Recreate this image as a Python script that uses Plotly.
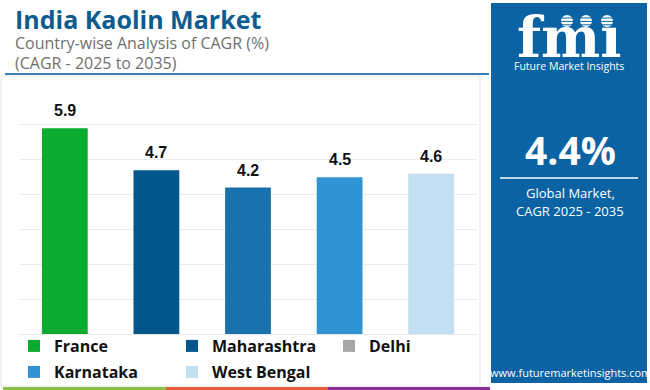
import plotly.graph_objects as go

# ---------------- data ----------------
categories = ["France", "Maharashtra", "Delhi", "Karnataka", "West Bengal"]
cagr_values = [5.9, 4.7, 4.2, 4.5, 4.6]
bar_colors = ["#0aab2e", "#03568c", "#1a72ad", "#3094d4", "#c2e0f2"]
legend_colors = ["#0aab2e", "#03568c", "#a6a6a6", "#3094d4", "#c2e0f2"]
title_text = "India Kaolin Market"
subtitle_1 = "Country-wise Analysis of CAGR (%)"
subtitle_2 = "(CAGR - 2025 to 2035)"
global_cagr = "4.4%"

W, H = 650, 390
L, R, T, B = 19, 477, 90, 334  # plot area in px

# legend item placement (left px of item, centre y px)
legend_pos = [(14, 346), (172, 346), (329, 346), (14, 372), (172, 372)]


def px(x):
    return (x - L) / (R - L)


def py(y):
    return (B - y) / (B - T)


fig = go.Figure()

fig.add_trace(go.Bar(
    x=categories, y=cagr_values,
    marker=dict(color=bar_colors, line=dict(width=0)),
    showlegend=False, hoverinfo="x+y",
))

legend_font = dict(family="Open Sans", size=16, color="#111111", weight="bold")
legend_layouts = {}
for i, (cat, col) in enumerate(zip(categories, legend_colors)):
    key = "legend" if i == 0 else f"legend{i + 1}"
    fig.add_trace(go.Scatter(
        x=[None], y=[None], mode="markers", name=cat,
        marker=dict(symbol="square", size=12, color=col),
        legend=key,
    ))
    lx, ly = legend_pos[i]
    legend_layouts[key] = dict(
        orientation="h", xref="container", yref="container",
        x=lx / W, y=1 - ly / H, xanchor="left", yanchor="middle",
        font=legend_font, bgcolor="rgba(0,0,0,0)", itemclick=False,
        itemdoubleclick=False,
    )

annotations = []
for cat, v in zip(categories, cagr_values):
    annotations.append(dict(
        x=cat, y=v, xref="x", yref="y", text=f"{v:.1f}", showarrow=False,
        yanchor="bottom", yshift=7,
        font=dict(family="Liberation Sans", size=16, color="#111111", weight="bold"),
    ))

annotations += [
    dict(x=px(13), y=py(19), xref="paper", yref="paper", text=title_text,
         showarrow=False, xanchor="left", yanchor="middle",
         font=dict(family="Open Sans", size=25, color="#0d5b8f", weight="bold")),
    dict(x=px(13), y=py(43), xref="paper", yref="paper", text=subtitle_1,
         showarrow=False, xanchor="left", yanchor="middle",
         font=dict(family="Open Sans", size=16, color="#707070")),
    dict(x=px(13), y=py(63), xref="paper", yref="paper", text=subtitle_2,
         showarrow=False, xanchor="left", yanchor="middle",
         font=dict(family="Open Sans", size=16, color="#707070")),
]

cx = 570
annotations += [
    dict(x=px(cx - 1), y=py(37), xref="paper", yref="paper", text="fmı",
         showarrow=False, xanchor="center", yanchor="middle",
         font=dict(family="DejaVu Serif", size=56, color="white", weight="bold")),
    dict(x=px(cx - 1), y=py(66), xref="paper", yref="paper", text="Future Market Insights",
         showarrow=False, xanchor="center", yanchor="middle",
         font=dict(family="Open Sans", size=10.5, color="white")),
    dict(x=px(cx), y=py(149), xref="paper", yref="paper", text=global_cagr,
         showarrow=False, xanchor="center", yanchor="middle",
         font=dict(family="Open Sans", size=39, color="white", weight="bold")),
    dict(x=px(cx), y=py(193), xref="paper", yref="paper", text="Global Market,",
         showarrow=False, xanchor="center", yanchor="middle",
         font=dict(family="Open Sans", size=13, color="white")),
    dict(x=px(cx), y=py(211), xref="paper", yref="paper", text="CAGR 2025 - 2035",
         showarrow=False, xanchor="center", yanchor="middle",
         font=dict(family="Open Sans", size=13, color="white")),
    dict(x=px(cx), y=py(372), xref="paper", yref="paper", text="www.futuremarketinsights.com",
         showarrow=False, xanchor="center", yanchor="middle",
         font=dict(family="Open Sans", size=11, color="white")),
]

panel_blue = "#0b63a3"
shapes = [
    dict(type="rect", xref="paper", yref="paper", x0=px(1), x1=px(480), y0=py(386), y1=py(76),
         line=dict(color="#e6e6e6", width=1), fillcolor="rgba(0,0,0,0)", layer="below"),
    dict(type="line", xref="paper", yref="paper", x0=px(5), x1=px(489), y0=py(74), y1=py(74),
         line=dict(color="#3c80b8", width=2)),
    dict(type="rect", xref="paper", yref="paper", x0=px(491), x1=px(647), y0=py(383), y1=py(3),
         line=dict(width=0), fillcolor=panel_blue, layer="below"),
    dict(type="line", xref="paper", yref="paper", x0=px(500), x1=px(638), y0=py(178), y1=py(178),
         line=dict(color="white", width=1.5)),
    dict(type="rect", xref="paper", yref="paper", x0=px(3), x1=px(166), y0=py(390), y1=py(387),
         line=dict(width=0), fillcolor="#8cc04b"),
    dict(type="rect", xref="paper", yref="paper", x0=px(166), x1=px(328), y0=py(390), y1=py(387),
         line=dict(width=0), fillcolor="#e2603a"),
    dict(type="rect", xref="paper", yref="paper", x0=px(328), x1=px(490), y0=py(390), y1=py(387),
         line=dict(width=0), fillcolor="#8a2f9a"),
]
for ccx in [567, 586, 607]:
    shapes.append(dict(type="circle", xref="paper", yref="paper",
                       x0=px(ccx - 6), x1=px(ccx + 6), y0=py(27), y1=py(15),
                       line=dict(width=0), fillcolor="white"))
yy = 18.0
while yy < 58:
    shapes.append(dict(type="line", xref="paper", yref="paper", x0=px(515), x1=px(628),
                       y0=py(yy), y1=py(yy), line=dict(color=panel_blue, width=1)))
    yy += 3.4

fig.update_layout(
    width=W, height=H,
    margin=dict(l=L, r=W - R, t=T, b=H - B, pad=0, autoexpand=False),
    paper_bgcolor="white", plot_bgcolor="white",
    barmode="overlay", bargap=0.5,
    xaxis=dict(showticklabels=False, showgrid=False, zeroline=False, showline=False,
               ticks="", fixedrange=True),
    yaxis=dict(range=[0, 7], dtick=1, showticklabels=False, showgrid=True,
               gridcolor="#ececec", gridwidth=1, zeroline=True, zerolinecolor="#e6e6e6",
               zerolinewidth=1, showline=False, ticks="", fixedrange=True),
    annotations=annotations, shapes=shapes,
    showlegend=True,
    **legend_layouts,
)

fig.write_html(
    "out.html",
    config={"displayModeBar": False},
    post_script="document.body.style.margin='0';document.body.style.overflow='hidden';",
)
